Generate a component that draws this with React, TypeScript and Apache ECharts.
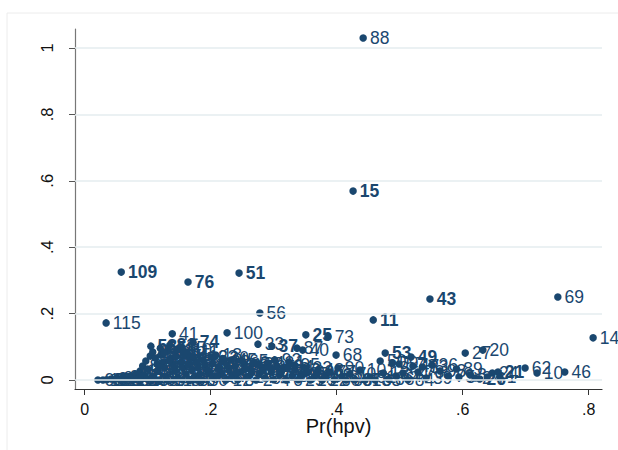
import React, { useEffect, useRef } from "react";
import * as echarts from "echarts";

// Axis ticks
const X_TICKS = [0, 0.2, 0.4, 0.6, 0.8];
const X_TICK_LABELS = ["0", ".2", ".4", ".6", ".8"];
const Y_TICKS = [0, 0.2, 0.4, 0.6, 0.8, 1];
const Y_TICK_LABELS = ["0", ".2", ".4", ".6", ".8", "1"];
const X_TITLE = "Pr(hpv)";

// Isolated / readable points
const OUT_X = [0.442, 0.426, 0.058, 0.164, 0.245, 0.278, 0.034, 0.548, 0.751, 0.458, 0.807, 0.139, 0.226, 0.172, 0.351, 0.386, 0.399, 0.477, 0.518, 0.604, 0.632, 0.699, 0.718, 0.762, 0.656, 0.627, 0.542, 0.551, 0.275, 0.297, 0.337, 0.346];
const OUT_Y = [1.030, 0.569, 0.325, 0.295, 0.322, 0.202, 0.172, 0.244, 0.250, 0.181, 0.127, 0.139, 0.142, 0.114, 0.136, 0.130, 0.075, 0.081, 0.069, 0.081, 0.090, 0.036, 0.021, 0.024, 0.024, 0.003, 0.006, 0.045, 0.108, 0.102, 0.096, 0.090];
const OUT_ID = [88, 15, 109, 76, 51, 56, 115, 43, 69, 11, 14, 41, 100, 74, 25, 73, 68, 53, 49, 27, 20, 62, 10, 46, 21, 26, 39, 36, 33, 37, 87, 40];

// Dense cluster near zero
const CL_X = [
  0.021, 0.029, 0.035, 0.042, 0.047, 0.051, 0.056, 0.061, 0.064, 0.069, 0.073, 0.077, 0.081, 0.085, 0.088, 0.089, 0.092, 0.094, 0.097, 0.099, 0.100, 0.104,
  0.105, 0.108, 0.112, 0.115, 0.116, 0.120, 0.121, 0.124, 0.127, 0.129, 0.132, 0.135, 0.137, 0.140, 0.143, 0.145, 0.148, 0.151, 0.153, 0.156, 0.159, 0.161, 0.164, 0.167, 0.170, 0.174, 0.177, 0.180, 0.183,
  0.107, 0.118, 0.131, 0.142, 0.155, 0.166, 0.179,
  0.186, 0.191, 0.196, 0.201, 0.204, 0.208, 0.212, 0.217, 0.221, 0.224, 0.229, 0.234, 0.239, 0.243, 0.248, 0.253, 0.258, 0.263, 0.267, 0.272, 0.277, 0.281, 0.286, 0.291, 0.296, 0.300, 0.305, 0.310, 0.315, 0.320, 0.324, 0.329, 0.334, 0.339,
  0.345, 0.351, 0.358, 0.364, 0.370, 0.377, 0.383, 0.389, 0.396, 0.402, 0.408, 0.415, 0.421, 0.429, 0.437, 0.445, 0.453, 0.461, 0.469, 0.474, 0.482, 0.488, 0.494, 0.499, 0.505, 0.513, 0.521, 0.529, 0.536, 0.564, 0.577, 0.590, 0.594, 0.612, 0.620, 0.639, 0.647, 0.659,
];
const CL_Y = [
  0.000, 0.000, 0.001, 0.003, 0.000, 0.006, 0.001, 0.009, 0.000, 0.003, 0.012, 0.001, 0.018, 0.006, 0.027, 0.000, 0.042, 0.015, 0.057, 0.003, 0.033, 0.072,
  0.102, 0.084, 0.066, 0.048, 0.027, 0.096, 0.075, 0.054, 0.036, 0.012, 0.087, 0.105, 0.066, 0.048, 0.027, 0.072, 0.006, 0.096, 0.054, 0.036, 0.075, 0.018, 0.045, 0.063, 0.030, 0.009, 0.054, 0.036, 0.018,
  0.001, 0.000, 0.000, 0.000, 0.001, 0.000, 0.000,
  0.000, 0.045, 0.024, 0.069, 0.006, 0.075, 0.036, 0.018, 0.054, 0.000, 0.030, 0.012, 0.042, 0.001, 0.024, 0.048, 0.009, 0.033, 0.051, 0.000, 0.018, 0.039, 0.006, 0.051, 0.027, 0.001, 0.042, 0.015, 0.033, 0.000, 0.054, 0.012, 0.030, 0.001,
  0.018, 0.036, 0.000, 0.009, 0.030, 0.000, 0.012, 0.024, 0.001, 0.036, 0.009, 0.000, 0.018, 0.001, 0.030, 0.000, 0.009, 0.000, 0.057, 0.021, 0.003, 0.051, 0.012, 0.048, 0.021, 0.001, 0.042, 0.024, 0.039, 0.027, 0.012, 0.033, 0.009, 0.015, 0.006, 0.009, 0.021, 0.009,
];
const CL_ID = [
  95, 12, 104, 3, 86, 30, 112, 9, 5, 102, 23, 91, 66, 106, 1, 34, 84, 111, 101, 8, 92, 57,
  58, 2, 113, 16, 107, 55, 94, 17, 98, 4, 31, 81, 19, 89, 105, 45, 6, 85, 28, 110, 35, 24, 90, 65, 32, 108, 83, 44, 103,
  38, 93, 114, 48, 78, 96, 7,
  50, 99, 67, 63, 79, 18, 80, 71, 82, 12, 47, 75, 52, 8, 70, 97, 24, 72, 61, 2, 23, 7, 9, 42, 17, 4, 16, 19, 28, 6, 1, 5, 30, 29,
  35, 32, 29, 44, 48, 22, 38, 77, 60, 90, 61, 66, 70, 67, 101, 13, 91, 63, 50, 13, 86, 59, 64, 57, 54, 84, 47, 78, 33, 98, 79, 89, 5, 8, 2, 4, 24, 1,
];

// Extra mid-height cluster points
const CL2_X = [0.188, 0.195, 0.203, 0.210, 0.219, 0.226, 0.232, 0.241, 0.250, 0.256, 0.265, 0.274, 0.283, 0.293, 0.302, 0.312, 0.322, 0.332, 0.342, 0.355, 0.368, 0.118, 0.126, 0.134, 0.147, 0.160, 0.172];
const CL2_Y = [0.060, 0.030, 0.050, 0.012, 0.065, 0.045, 0.060, 0.020, 0.058, 0.035, 0.022, 0.048, 0.027, 0.038, 0.060, 0.024, 0.040, 0.045, 0.010, 0.024, 0.015, 0.040, 0.082, 0.058, 0.090, 0.085, 0.070];
const CL2_ID = [3, 9, 12, 23, 30, 34, 45, 57, 65, 75, 80, 82, 83, 85, 92, 93, 94, 95, 96, 99, 102, 104, 106, 107, 110, 111, 112];

const BOLD_IDS = [15, 109, 76, 51, 43, 11, 74, 25, 53, 49, 37, 21, 26, 58, 81, 55];

const NAVY = "#1a476f";
const FONT = "'Liberation Sans', Arial, Helvetica, sans-serif";

export default function App() {
  const ref = useRef<HTMLDivElement>(null);
  useEffect(() => {
    document.body.style.margin = "0";
    if (!ref.current) return;
    const chart = echarts.init(ref.current, undefined, { renderer: "svg" });

    const mk = (x: number, y: number, id: number) => ({
      value: [x, y],
      name: String(id),
      label: { fontWeight: BOLD_IDS.includes(id) ? "bold" : "normal" },
    });
    const points: any[] = [];
    CL_X.forEach((x, i) => points.push(mk(x, CL_Y[i], CL_ID[i])));
    CL2_X.forEach((x, i) => points.push(mk(x, CL2_Y[i], CL2_ID[i])));
    OUT_X.forEach((x, i) => points.push(mk(x, OUT_Y[i], OUT_ID[i])));

    const fmt = (ticks: number[], labels: string[]) => (v: number) => {
      let best = 0;
      ticks.forEach((t, i) => {
        if (Math.abs(t - v) < Math.abs(ticks[best] - v)) best = i;
      });
      return labels[best];
    };

    chart.setOption({
      animation: false,
      backgroundColor: "#ffffff",
      textStyle: { fontFamily: FONT },
      grid: { left: 75, right: 16, top: 29, bottom: 61, containLabel: false },
      graphic: [
        {
          type: "rect",
          shape: { x: 7, y: 13, width: 800, height: 800 },
          style: { fill: "none", stroke: "#ececec", lineWidth: 1 },
          silent: true,
          z: -10,
        },
      ],
      xAxis: {
        type: "value",
        min: -0.0154,
        max: 0.8211,
        name: X_TITLE,
        nameLocation: "middle",
        nameGap: 27,
        nameMoveOverlap: false,
        nameTextStyle: { fontSize: 20, color: "#111", fontFamily: FONT },
        axisLine: { show: true, onZero: false, lineStyle: { color: "#333", width: 1.2 } },
        axisTick: { show: true, length: 6, inside: false, customValues: X_TICKS, lineStyle: { color: "#333" } },
        axisLabel: { customValues: X_TICKS, formatter: fmt(X_TICKS, X_TICK_LABELS), fontSize: 16, color: "#111", margin: 12, fontFamily: FONT },
        splitLine: { show: false },
      },
      yAxis: {
        type: "value",
        min: -0.0271,
        max: 1.0572,
        axisLine: { show: true, onZero: false, lineStyle: { color: "#777", width: 1.2 } },
        axisTick: { show: true, length: 6, customValues: Y_TICKS, lineStyle: { color: "#555" } },
        axisLabel: { customValues: Y_TICKS, formatter: fmt(Y_TICKS, Y_TICK_LABELS), rotate: 90, fontSize: 16.5, color: "#111", margin: 20, fontFamily: FONT },
        splitLine: { show: false },
      },
      series: [
        {
          type: "scatter",
          data: [],
          z: 1,
          markLine: {
            silent: true,
            symbol: ["none", "none"],
            label: { show: false },
            lineStyle: { color: "#e4ecef", width: 1.5, type: "solid" },
            data: Y_TICKS.map((v) => ({ yAxis: v })),
          },
        },
        {
          type: "scatter",
          z: 2,
          symbol: "circle",
          symbolSize: 7.5,
          itemStyle: { color: NAVY, opacity: 1 },
          label: {
            show: true,
            position: "right",
            distance: 3,
            formatter: (p: any) => p.name,
            color: NAVY,
            fontSize: 17.5,
            fontFamily: FONT,
          },
          emphasis: { disabled: true },
          data: points,
        },
      ],
    });
    return () => chart.dispose();
  }, []);
  return <div ref={ref} style={{ width: 618, height: 450 }} />;
}
